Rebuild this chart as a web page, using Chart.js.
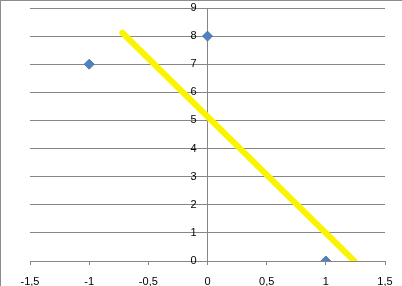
<!DOCTYPE html>
<html>
<head>
<meta charset="utf-8">
<script src="https://cdn.jsdelivr.net/npm/chart.js@4"></script>
<style>
  html, body { margin: 0; padding: 0; background: #fff; overflow: hidden; }
  #wrap { position: relative; width: 402px; height: 286px; box-sizing: border-box; border-left: 1px solid #8c8c8c; border-top: 1px solid #8c8c8c; }
  canvas { display: block; }
</style>
</head>
<body>
<div id="wrap"><canvas id="chart" width="401" height="285"></canvas></div>
<script>
const pointsX = [-1, 0, 1];
const pointsY = [7, 8, 0];
const lineX = [-0.72, 1.24];
const lineY = [8.12, 0];
const xTicks = [-1.5, -1, -0.5, 0, 0.5, 1, 1.5];
const yTicks = [0, 1, 2, 3, 4, 5, 6, 7, 8, 9];

const ctx = document.getElementById('chart').getContext('2d');
Chart.defaults.font.family = 'Liberation Sans, Arial, sans-serif';
Chart.defaults.font.size = 11;
Chart.defaults.color = '#000';

// y labels sit left of the centred axis (Chart.js ignores tick padding there)
const yLabels = {
  id: 'yLabels',
  afterDraw(chart) {
    const xs = chart.scales.x, ys = chart.scales.y;
    const c = chart.ctx;
    const x = xs.getPixelForValue(0) - 11;
    c.save();
    c.font = '11px Liberation Sans, Arial, sans-serif';
    c.fillStyle = '#000';
    c.textAlign = 'right';
    c.textBaseline = 'middle';
    ys.ticks.forEach(t => c.fillText(String(t.value), x, ys.getPixelForValue(t.value)));
    c.restore();
  }
};

new Chart(ctx, {
  type: 'scatter',
  data: {
    datasets: [
      {
        label: 'line',
        data: lineX.map((x, i) => ({ x, y: lineY[i] })),
        showLine: true,
        borderColor: '#faf400',
        borderWidth: 6,
        pointRadius: 0,
        borderCapStyle: 'round'
      },
      {
        label: 'points',
        data: pointsX.map((x, i) => ({ x, y: pointsY[i] })),
        pointStyle: 'rectRot',
        pointRadius: 5,
        backgroundColor: '#4f81bd',
        borderColor: '#4a7ab5',
        borderWidth: 1
      }
    ]
  },
  options: {
    responsive: false,
    animation: false,
    devicePixelRatio: 1,
    layout: { padding: { left: 29, right: 17, top: 7, bottom: 0 } },
    plugins: { legend: { display: false }, tooltip: { enabled: false } },
    scales: {
      x: {
        type: 'linear',
        min: -1.5,
        max: 1.5,
        afterBuildTicks: s => { s.ticks = xTicks.map(v => ({ value: v })); },
        afterFit: s => { s.paddingLeft = 0; s.paddingRight = 0; s.height = 25; },
        ticks: {
          callback: v => String(v).replace('.', ','),
          padding: 10,
          maxRotation: 0,
          autoSkip: false
        },
        grid: { drawOnChartArea: false, drawTicks: true, tickLength: 4, color: '#868686' },
        border: { color: '#868686' }
      },
      y: {
        type: 'linear',
        position: { x: 0 },
        min: 0,
        max: 9,
        afterBuildTicks: s => { s.ticks = yTicks.map(v => ({ value: v })); },
        afterFit: s => { s.paddingTop = 0; s.paddingBottom = 0; },
        ticks: { display: false },
        grid: { color: '#868686', drawTicks: false },
        border: { color: '#868686' }
      }
    }
  },
  plugins: [yLabels]
});
</script>
</body>
</html>
